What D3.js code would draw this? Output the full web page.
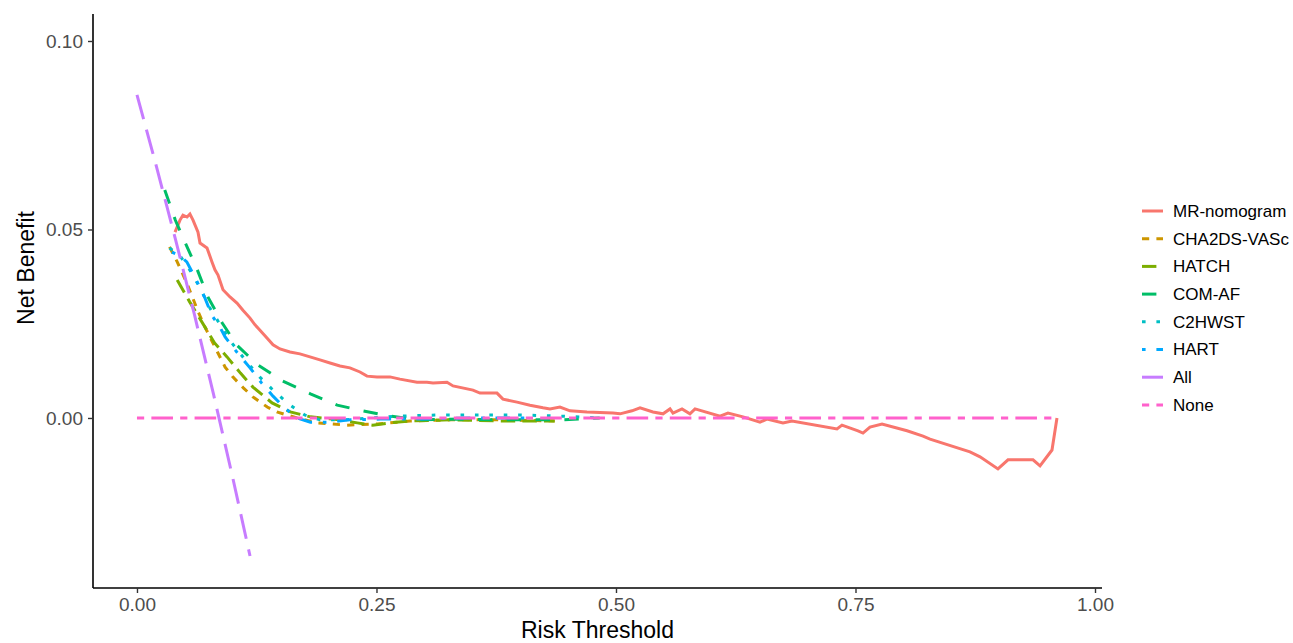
<!DOCTYPE html>
<meta charset=utf-8>
<style>
body { margin: 0; background: white }
svg { font-family: "Liberation Sans", Arial, sans-serif }
</style>
<script src="https://cdn.jsdelivr.net/npm/d3@7/dist/d3.min.js"></script>
<body>
<svg width=1293 height=643 id=dca></svg>
<script>
// decision curve data: [risk threshold, net benefit]
const mrNomogram = [
	[0.0397,0.0493],[0.0449,0.0525],[0.0480,0.0538],[0.0522,0.0533],[0.0553,0.0541],[0.0585,0.0525],
	[0.0637,0.0493],[0.0658,0.0464],[0.0731,0.0451],[0.0783,0.0414],[0.0814,0.0393],[0.0846,0.0379],
	[0.0898,0.0340],[0.0971,0.0321],[0.1044,0.0305],[0.1106,0.0286],[0.1180,0.0265],[0.1232,0.0247],
	[0.1284,0.0233],[0.1357,0.0212],[0.1420,0.0194],[0.1493,0.0183],[0.1597,0.0175],[0.1701,0.0170],
	[0.1806,0.0162],[0.1910,0.0154],[0.2015,0.0146],[0.2119,0.0138],[0.2223,0.0133],[0.2328,0.0122],
	[0.2401,0.0111],[0.2505,0.0109],[0.2641,0.0109],[0.2745,0.0103],[0.2923,0.0095],[0.3027,0.0095],
	[0.3090,0.0093],[0.3236,0.0095],[0.3299,0.0085],[0.3507,0.0074],[0.3580,0.0066],[0.3758,0.0066],
	[0.3820,0.0050],[0.3967,0.0042],[0.4102,0.0034],[0.4238,0.0027],[0.4311,0.0024],[0.4415,0.0029],
	[0.4520,0.0019],[0.4697,0.0016],[0.4969,0.0013],[0.5042,0.0011],[0.5167,0.0019],[0.5251,0.0027],
	[0.5386,0.0016],[0.5491,0.0011],[0.5564,0.0024],[0.5595,0.0013],[0.5689,0.0024],[0.5772,0.0011],
	[0.5825,0.0024],[0.6086,0.0005],[0.6169,0.0013],[0.6326,0.0003],[0.6503,-0.0011],[0.6576,-0.0003],
	[0.6743,-0.0013],[0.6837,-0.0008],[0.7307,-0.0029],[0.7359,-0.0019],[0.7526,-0.0034],[0.7578,-0.0040],
	[0.7651,-0.0024],[0.7777,-0.0016],[0.8038,-0.0034],[0.8205,-0.0048],[0.8278,-0.0056],[0.8695,-0.0090],
	[0.8800,-0.0103],[0.8987,-0.0135],[0.9092,-0.0111],[0.9353,-0.0111],[0.9426,-0.0127],[0.9551,-0.0085],
	[0.9603,0.0000]
];
const cha2dsVasc = [
	[0.034,0.0454],[0.042,0.0414],[0.052,0.0358],[0.064,0.0281],[0.071,0.0241],[0.084,0.0175],
	[0.092,0.0135],[0.100,0.0109],[0.111,0.0080],[0.121,0.0056],[0.136,0.0029],[0.146,0.0016],
	[0.167,0.0000],[0.188,-0.0013],[0.219,-0.0019],[0.251,-0.0016],[0.285,-0.0008],[0.327,-0.0005],
	[0.379,-0.0005],[0.436,-0.0008]
];
const hatch = [
	[0.042,0.0366],[0.055,0.0308],[0.071,0.0241],[0.081,0.0199],[0.094,0.0162],[0.108,0.0119],
	[0.121,0.0082],[0.141,0.0040],[0.160,0.0016],[0.181,0.0003],[0.205,-0.0003],[0.230,-0.0013],
	[0.246,-0.0019],[0.264,-0.0013],[0.285,-0.0008],[0.327,-0.0005],[0.379,-0.0008],[0.436,-0.0008]
];
const comAf = [
	[0.029,0.0605],[0.040,0.0525],[0.050,0.0467],[0.063,0.0393],[0.074,0.0321],[0.089,0.0252],
	[0.104,0.0194],[0.125,0.0143],[0.152,0.0098],[0.181,0.0064],[0.209,0.0034],[0.236,0.0019],
	[0.264,0.0005],[0.295,-0.0005],[0.337,-0.0003],[0.386,-0.0005],[0.442,-0.0005],[0.483,0.0000]
];
const c2hwst = [
	[0.034,0.0451],[0.045,0.0430],[0.055,0.0393],[0.066,0.0345],[0.076,0.0292],[0.087,0.0247],
	[0.099,0.0199],[0.113,0.0154],[0.128,0.0109],[0.144,0.0069],[0.160,0.0034],[0.175,0.0008],
	[0.191,-0.0005],[0.217,-0.0005],[0.243,0.0000],[0.275,0.0005],[0.316,0.0008],[0.358,0.0008],
	[0.400,0.0008],[0.442,0.0005],[0.483,0.0000]
];
const hart = [
	[0.0365,0.0440],[0.045,0.0430],[0.052,0.0414],[0.061,0.0371],[0.071,0.0318],[0.078,0.0273],
	[0.087,0.0239],[0.092,0.0215],[0.100,0.0188],[0.111,0.0154],[0.118,0.0133],[0.130,0.0093],
	[0.142,0.0058],[0.154,0.0027],[0.167,0.0000],[0.181,-0.0011],[0.201,-0.0011],[0.222,-0.0005],
	[0.254,-0.0003],[0.295,-0.0003],[0.348,0.0000],[0.410,0.0000]
];
const treatAll = [
	[0.000,0.0857],[0.020,0.0670],[0.040,0.0476],[0.060,0.0274],[0.080,0.0062],[0.100,-0.0159],[0.118,-0.0366]
];
const treatNone = [[0.000,0.0000],[0.960,0.0000]];

const modelNames = ["MR-nomogram","CHA2DS-VASc","HATCH","COM-AF","C2HWST","HART","All","None"];
const curves = [mrNomogram, cha2dsVasc, hatch, comAf, c2hwst, hart, treatAll, treatNone];
const xTicks = [0, 0.25, 0.5, 0.75, 1];
const yTicks = [0, 0.05, 0.10];

// ggplot-ish styling
const colours = ["#F8766D","#CD9600","#7CAE00","#00BE67","#00BFC4","#00A9FF","#C77CFF","#FF61CC"];
const u = 3.6;
const dashes = [null, [2,2], [4,2], [4,4], [1,3], [1,3,4,3], [7,3], [2,2,6,2]]
	.map(d => d ? d.map(v => v*u).join(",") : null);

const svg = d3.select(dca);
const panel = {left: 93, right: 1102, top: 14, bottom: 588};

const x = d3.scaleLinear().domain([-0.0459, 1.0073]).range([panel.left, panel.right]);
const y = d3.scaleLinear().domain([-0.0451, 0.10716]).range([panel.bottom, panel.top]);

const line = d3.line().x(d => x(d[0])).y(d => y(d[1]));

// curves
svg.append("g")
	.attr("fill", "none")
	.attr("stroke-width", 3)
	.selectAll("path")
	.data(curves)
	.join("path")
		.attr("d", line)
		.attr("stroke", (d, i) => colours[i])
		.attr("stroke-dasharray", (d, i) => dashes[i]);

// axes
const xAxis = svg.append("g")
	.attr("transform", `translate(0,${panel.bottom})`)
	.call(d3.axisBottom(x).tickValues(xTicks).tickFormat(d3.format(".2f")).tickSize(5).tickPadding(5))
	.call(g => g.select(".domain").attr("stroke", "black").attr("stroke-width", 1.6)
		.attr("d", `M${panel.left},0H${panel.right}`));
xAxis.selectAll(".tick line").attr("stroke", "#333").attr("stroke-width", 1.4);
xAxis.selectAll(".tick text").attr("fill", "#4D4D4D").attr("font-size", 19).attr("font-family", null);

const yAxis = svg.append("g")
	.attr("transform", `translate(${panel.left},0)`)
	.call(d3.axisLeft(y).tickValues(yTicks).tickFormat(d3.format(".2f")).tickSize(5).tickPadding(5))
	.call(g => g.select(".domain").attr("stroke", "black").attr("stroke-width", 1.6)
		.attr("d", `M0,${panel.top}V${panel.bottom}`));
yAxis.selectAll(".tick line").attr("stroke", "#333").attr("stroke-width", 1.4);
yAxis.selectAll(".tick text").attr("fill", "#4D4D4D").attr("font-size", 19).attr("font-family", null);

// axis titles
svg.append("text")
	.attr("x", (panel.left + panel.right) / 2)
	.attr("y", 638)
	.attr("text-anchor", "middle")
	.attr("font-size", 23)
	.text("Risk Threshold");
svg.append("text")
	.attr("transform", "translate(34,268) rotate(-90)")
	.attr("text-anchor", "middle")
	.attr("font-size", 23)
	.text("Net Benefit");

// legend
const legend = svg.append("g").attr("transform", "translate(1142,211)");
const rows = legend.selectAll("g")
	.data(modelNames)
	.join("g")
		.attr("transform", (d, i) => `translate(0,${i * 27.7})`);
rows.append("line")
	.attr("x1", 0).attr("x2", 21)
	.attr("stroke-width", 3)
	.attr("stroke", (d, i) => colours[i])
	.attr("stroke-dasharray", (d, i) => dashes[i]);
rows.append("text")
	.attr("x", 31)
	.attr("dy", "0.35em")
	.attr("font-size", 17)
	.text(d => d);
</script>
</body>
